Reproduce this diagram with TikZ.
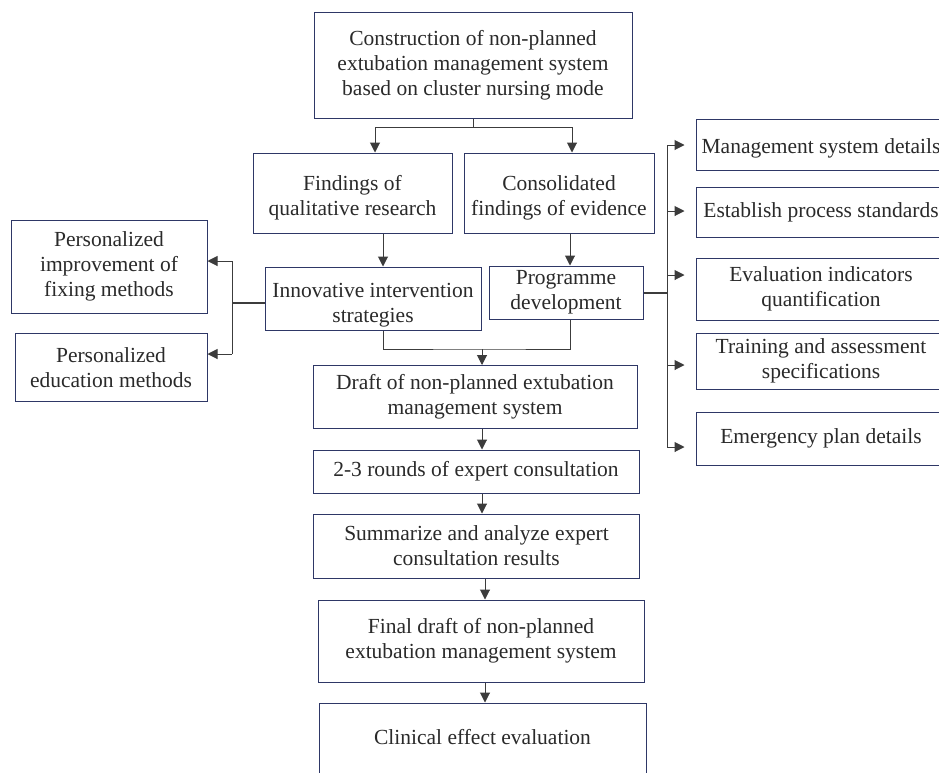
\documentclass[tikz,border=0pt]{standalone}
\usepackage{fontspec}
\setmainfont{Liberation Serif}
\usetikzlibrary{arrows.meta}

\definecolor{boxline}{HTML}{2E3766}
\definecolor{txtcol}{HTML}{2A2A2A}
\definecolor{linecol}{HTML}{3C3C3C}

\begin{document}
\begin{tikzpicture}[
    x=1pt, y=-1pt,
    box/.style={rectangle, draw=boxline, line width=1pt, fill=white, text=txtcol, align=center, inner sep=0pt, font=\fontsize{21.5}{25}\selectfont},
    arrow/.style={-{Triangle[length=10pt, width=10pt]}, line width=1pt, draw=linecol},
    wire/.style={line width=1pt, draw=linecol},
    thickwire/.style={line width=2pt, draw=linecol}
]
    \useasboundingbox (0,0) rectangle (939,772);
    \clip (0,0) rectangle (939,772);
    \fill[white] (0,0) rectangle (939,772);

    % Nodes
    \node[box, minimum width=318pt, minimum height=106pt] (top) at (473,65) {Construction of non-planned\\extubation management system\\based on cluster nursing mode};
    \node[box, minimum width=199pt, minimum height=80pt, text height=50pt] (find) at (352.5,193) {Findings of\\qualitative research};
    \node[box, minimum width=190pt, minimum height=80pt, text height=50pt] (cons) at (559,193) {Consolidated\\findings of evidence};
    \node[box, minimum width=216pt, minimum height=63pt, text height=53pt] (innov) at (373,298.5) {Innovative intervention\\strategies};
    \node[box, minimum width=154pt, minimum height=53pt] (prog) at (566,292.5) {Programme\\development};
    \node[box, minimum width=196pt, minimum height=93pt] (pfix) at (109,266.5) {Personalized\\improvement of\\fixing methods};
    \node[box, minimum width=192pt, minimum height=68pt] (pedu) at (111,367.5) {Personalized\\education methods};
    \node[box, minimum width=324pt, minimum height=63pt] (draft) at (475,397) {Draft of non-planned extubation\\management system};
    \node[box, minimum width=326pt, minimum height=43pt] (rounds) at (476,471.5) {2-3 rounds of expert consultation};
    \node[box, minimum width=326pt, minimum height=64pt] (summ) at (476.5,546) {Summarize and analyze expert\\consultation results};
    \node[box, minimum width=326pt, minimum height=82pt] (final) at (481,641) {Final draft of non-planned\\extubation management system};
    \node[box, minimum width=327pt, minimum height=100pt, text depth=32pt] (clin) at (482.5,753) {Clinical effect evaluation};

    % Right column
    \node[box, minimum width=250pt, minimum height=51pt, text height=22pt] (msd) at (821,144.5) {Management system details};
    \node[box, minimum width=250pt, minimum height=50pt] (eps) at (821,212) {Establish process standards};
    \node[box, minimum width=250pt, minimum height=62pt] (eiq) at (821,289) {Evaluation indicators\\quantification};
    \node[box, minimum width=250pt, minimum height=56pt] (tas) at (821,361) {Training and assessment\\specifications};
    \node[box, minimum width=250pt, minimum height=53pt] (epd) at (821,438.5) {Emergency plan details};

    % Junction points
    \coordinate (splitL) at (375,127);
    \coordinate (splitR) at (572,127);
    \coordinate (c1) at (383,0);
    \coordinate (c2) at (570,0);
    \coordinate (c3) at (482,349);
    \coordinate (c4) at (485,0);
    \coordinate (lj) at (232,303);
    \coordinate (lt) at (232,261);
    \coordinate (lb) at (232,354);
    \coordinate (rj) at (667,293);

    % Arrows
    \draw[wire] (top.south) -- (top.south |- splitL);
    \draw[wire] (splitL) -- (splitR);
    \draw[arrow] (splitL) -- (splitL |- find.north);
    \draw[arrow] (splitR) -- (splitR |- cons.north);
    \draw[arrow] (find.south -| c1) -- (innov.north -| c1);
    \draw[arrow] (cons.south -| c2) -- (prog.north -| c2);
    \draw[wire] (innov.south -| c1) |- (c3) -| (prog.south -| c2);
    \draw[arrow] (c3) -- (c3 |- draft.north);
    \draw[arrow] (draft.south -| c3) -- (rounds.north -| c3);
    \draw[arrow] (rounds.south -| c3) -- (summ.north -| c3);
    \draw[arrow] (summ.south -| c4) -- (final.north -| c4);
    \draw[arrow] (final.south -| c4) -- (clin.north -| c4);

    % Left branch
    \draw[thickwire] (innov.west |- lj) -- (lj);
    \draw[wire] (lt) -- (lb);
    \draw[arrow] (lt) -- (lt -| pfix.east);
    \draw[arrow] (lb) -- (lb -| pedu.east);

    % Right branch
    \draw[thickwire] (prog.east |- rj) -- (rj);
    \foreach \n/\y in {msd/145, eps/211, eiq/275, tas/365, epd/447} {
        \coordinate (b-\n) at (667,\y);
        \draw[arrow, shorten >=11pt] (b-\n) -- (b-\n -| \n.west);
    }
    \draw[wire] (b-msd) -- (b-epd);
\end{tikzpicture}
\end{document}
